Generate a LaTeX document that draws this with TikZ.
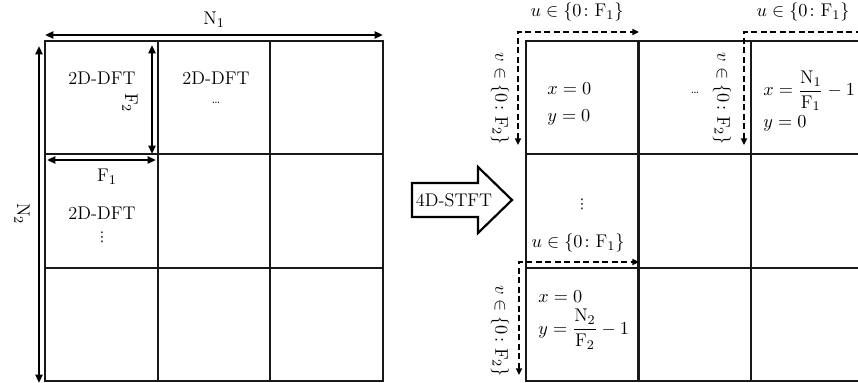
\documentclass[tikz,border=0pt]{standalone}
\usepackage{amsmath}
\usepackage{fontspec}
\usepackage{tikz}
\usetikzlibrary{positioning,arrows.meta}
\newfontfamily\symfont{DejaVu Sans}

\begin{document}
\begin{tikzpicture}[
  x=0.6pt, y=-0.6pt,
  font=\fontsize{11}{13}\selectfont,
  gridline/.style={line width=1.3pt, line cap=rect, draw=black!90},
  dimarrow/.style={line width=1.4pt, {Triangle[length=5pt,width=4.2pt]}-{Triangle[length=5pt,width=4.2pt]}},
  rangearrow/.style={line width=1.3pt, dash pattern=on 3.6pt off 2.1pt, {Triangle[length=4pt,width=3.6pt]}-{Triangle[length=4pt,width=3.6pt]}},
  lbl/.style={inner sep=1pt},
  vlbl/.style={inner sep=1pt, rotate=-90},
  dotsnode/.style={inner sep=0pt},
  vdotsnode/.style={inner sep=0pt, font=\symfont\fontsize{8}{9}\selectfont},
  cellnote/.style={align=left, anchor=west, inner sep=0pt}
]
  \useasboundingbox (0,0) rectangle (858,383);
  \clip (0,0) rectangle (858,383);

  % left grid: N1 x N2 image cut into F1 x F2 windows
  \foreach \i in {0,...,3} {
    \draw[gridline] ({45+\i*112.67},41) -- ({45+\i*112.67},381);
    \draw[gridline] (45,{41+\i*113.33}) -- (383,{41+\i*113.33});
  }
  \node (dftA) at (102,78) {2D-DFT};
  \node (dftB) at (216,78) {2D-DFT};
  \node[dotsnode] (dotsB) at (216,103) {\scriptsize\ldots};
  \node (dftC) at (102,213) {2D-DFT};
  \node[vdotsnode] (vdotsC) at (102,237) {⋮};

  \coordinate (n1l) at (45,35);
  \coordinate (n1r) at (383,35);
  \coordinate (n2t) at (39,46);
  \coordinate (n2b) at (39,383);
  \coordinate (f2t) at (152,45);
  \coordinate (f2b) at (152,154);
  \coordinate (f1l) at (47,160);
  \coordinate (f1r) at (156,160);
  \draw[dimarrow] (n1l) -- (n1r);
  \draw[dimarrow] (n2t) -- (n2b);
  \draw[dimarrow] (f2t) -- (f2b);
  \draw[dimarrow] (f1l) -- (f1r);
  \node[lbl] (n1) at (214,20) {$\mathrm{N}_1$};
  \node[vlbl] (n2) at (22,214) {$\mathrm{N}_2$};
  \node[vlbl] (f2) at (130,103) {$\mathrm{F}_2$};
  \node[lbl] (f1) at (107,177) {$\mathrm{F}_1$};

  % transform arrow
  \draw[line width=1.3pt, line join=miter] (412,183) -- (478,183) -- (478,167) -- (512,200)
    -- (478,233) -- (478,217) -- (412,217) -- cycle;
  \node (stft) at (454,200) {4D-STFT};

  % right grid: one window per (x,y)
  \foreach \i in {0,...,3} {
    \draw[gridline] ({526+\i*112.5},41) -- ({526+\i*112.5},381);
    \draw[gridline] (526,{41+\i*113.33}) -- (864,{41+\i*113.33});
  }
  \node[cellnote] (xyA) at (547,104) {$x=0$\\[3pt]$y=0$};
  \node[dotsnode] (dotsR) at (695,93) {\scriptsize\ldots};
  \node[cellnote] (xyB) at (763,101) {$x=\dfrac{\mathrm{N}_1}{\mathrm{F}_1}-1$\\[2pt]$y=0$};
  \node[vdotsnode] (vdotsR) at (582,204) {⋮};
  \node[cellnote] (xyC) at (538,320) {$x=0$\\[3pt]$y=\dfrac{\mathrm{N}_2}{\mathrm{F}_2}-1$};

  \coordinate (uA) at (639,32);
  \coordinate (vA) at (518,145);
  \coordinate (uB) at (880,32);
  \coordinate (vB) at (744,145);
  \coordinate (uC) at (639,262);
  \coordinate (vC) at (519,375);
  \draw[rangearrow] (vA) |- (uA);
  \draw[rangearrow] (vB) |- (uB);
  \draw[rangearrow] (vC) |- (uC);
  \node[lbl] (ulA) at (577,12) {$u\in\{0\colon\mathrm{F}_1\}$};
  \node[lbl] (ulB) at (803,12) {$u\in\{0\colon\mathrm{F}_1\}$};
  \node[lbl] (ulC) at (578,243) {$u\in\{0\colon\mathrm{F}_1\}$};
  \node[vlbl] (vlA) at (500,99) {$v\in\{0\colon\mathrm{F}_2\}$};
  \node[vlbl] (vlB) at (722,99) {$v\in\{0\colon\mathrm{F}_2\}$};
  \node[vlbl] (vlC) at (500,331) {$v\in\{0\colon\mathrm{F}_2\}$};
\end{tikzpicture}
\end{document}
